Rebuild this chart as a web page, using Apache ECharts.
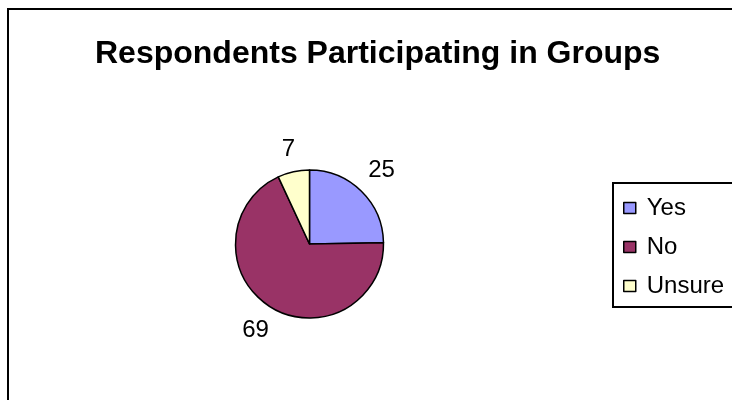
<!DOCTYPE html>
<html><head><meta charset="utf-8">
<script src="https://cdn.jsdelivr.net/npm/echarts@6/dist/echarts.min.js"></script>
<style>html,body{margin:0;padding:0;background:#fff}#c{width:732px;height:400px}</style>
</head><body><div id="c"></div>
<script>
const categories = ['Yes', 'No', 'Unsure'];
const values = [25, 69, 7];
const colors = ['#9999FF', '#993366', '#FFFFCC'];
const titleText = 'Respondents Participating in Groups';

const chart = echarts.init(document.getElementById('c'), null, {renderer: 'canvas'});
const FONT = '"Liberation Sans", Arial, sans-serif';
const CENTER = [309.5, 244];
const RADIUS = 74;
const LABEL_SIZE = 24;
const LABEL_GAP = 13;
chart.setOption({
  animation: false,
  backgroundColor: '#fff',
  graphic: [{
    type: 'rect', shape: {x: 8, y: 9, width: 900, height: 600},
    style: {fill: 'none', stroke: '#000', lineWidth: 2}, silent: true, z: -1
  }],
  title: {
    text: titleText, left: 90, top: 33,
    textStyle: {fontFamily: FONT, fontSize: 32, fontWeight: 'bold', color: '#000'}
  },
  legend: {
    orient: 'vertical', left: 613, top: 183,
    data: categories,
    icon: 'rect', itemWidth: 12, itemHeight: 11, itemGap: 13,
    padding: [12, 60, 8, 10],
    borderColor: '#000', borderWidth: 2,
    textStyle: {fontFamily: FONT, fontSize: 24, color: '#000', lineHeight: 26, padding: [0, 0, 0, 6]},
    itemStyle: {borderColor: '#000', borderWidth: 1.5}
  },
  series: [{
    type: 'pie', center: CENTER, radius: RADIUS,
    startAngle: 90, clockwise: true,
    data: categories.map((c, i) => ({name: c, value: values[i], itemStyle: {color: colors[i]}})),
    itemStyle: {borderColor: '#000', borderWidth: 1.5},
    label: {show: false},
    labelLine: {show: false},
    emphasis: {disabled: true}
  }, {
    // transparent companion ring: gives each value label its radial direction
    type: 'pie', center: CENTER, radius: 206,
    startAngle: 90, clockwise: true, silent: true, legendHoverLink: false,
    data: categories.map((c, i) => ({name: c, value: values[i]})),
    itemStyle: {color: 'rgba(0,0,0,0)', borderWidth: 0},
    label: {show: true, position: 'inside', formatter: '{c}', fontFamily: FONT, fontSize: LABEL_SIZE, color: '#000'},
    labelLine: {show: false},
    labelLayout: function (p) {
      const r = p.labelRect;
      const lx = r.x + r.width / 2, ly = r.y + r.height / 2;
      let ux = lx - CENTER[0], uy = ly - CENTER[1];
      const len = Math.hypot(ux, uy) || 1;
      ux /= len; uy /= len;
      const hw = r.width / 2, hh = LABEL_SIZE * 0.375;
      const d = RADIUS + LABEL_GAP + Math.abs(ux) * hw + Math.abs(uy) * hh;
      return {x: CENTER[0] + ux * d, y: CENTER[1] + uy * d, align: 'center', verticalAlign: 'middle'};
    },
    emphasis: {disabled: true},
    z: 1
  }]
});
</script></body></html>
